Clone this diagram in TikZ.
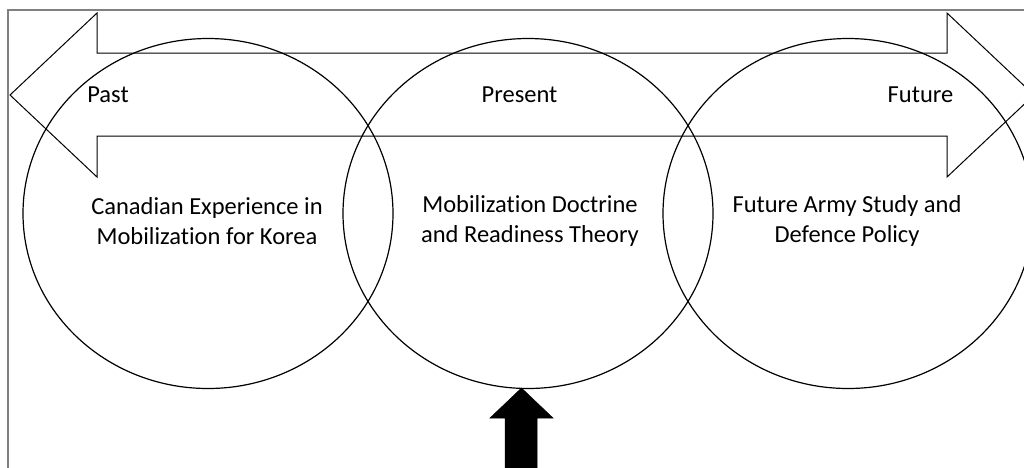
\documentclass[tikz,border=0pt]{standalone}
\usepackage{fontspec}
\setmainfont{Carlito}[Ligatures={NoCommon}]
\usetikzlibrary{shapes.geometric}
\begin{document}
\begin{tikzpicture}[x=1pt,y=-1pt,
  ring/.style={draw=black,line width=1.2pt,ellipse,minimum width=370pt,minimum height=350pt,inner sep=0pt},
  caption/.style={font=\fontsize{24.5}{30}\selectfont,align=center,text=black,inner sep=0pt},
  tag/.style={font=\fontsize{24.5}{30}\selectfont,anchor=base,inner sep=0pt,text=black},
  timeline/.style={draw=black,line width=1pt,line join=miter},
  pointer/.style={fill=black,draw=black,line width=0.5pt},
]
\useasboundingbox (0,0) rectangle (1024,467);
\clip (0,0) rectangle (1024,467);

% outer frame
\draw[gray,line width=1.5pt] (8,480) -- (8,10) -- (1040,10);

% double-headed time arrow
\draw[timeline] (10,95) -- (97,13) -- (97,53) -- (947,53) -- (947,13) -- (1034,95)
  -- (947,177) -- (947,136) -- (97,136) -- (97,177) -- cycle;

% three overlapping circles
\node[ring] (past)    at (208,213.5) {};
\node[ring] (present) at (528,213.5) {};
\node[ring] (future)  at (848,213.5) {};

% circle captions
\node[caption] (pastText)    at (207,221) {Canadian Experience in\\Mobilization for Korea};
\node[caption] (presentText) at (530,221) {Mobilization Doctrine\\and Readiness Theory};
\node[caption] (futureText)  at (847,221) {Future Army Study and\\Defence Policy};

% time labels
\node[tag] (pastTag)    at (108,102)   {Past};
\node[tag] (presentTag) at (519.5,102) {Present};
\node[tag] (futureTag)  at (920.5,102) {Future};

% upward pointer to the present
\coordinate (tip) at (521.5,388);
\draw[pointer] (tip) -- (553,418) -- (537,418) -- (537,480) -- (505,480) -- (505,418) -- (490,418) -- cycle;
\end{tikzpicture}
\end{document}
